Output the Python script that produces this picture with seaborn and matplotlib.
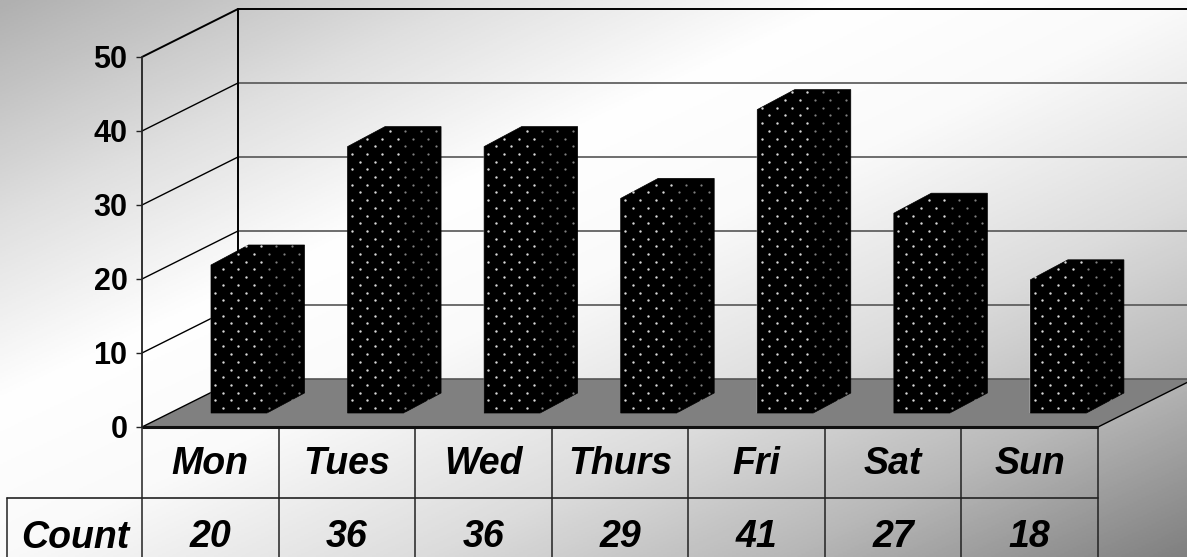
import numpy as np
import pandas as pd
import seaborn as sns
import matplotlib
matplotlib.use('Agg')
import matplotlib.pyplot as plt
from matplotlib.colors import LinearSegmentedColormap
from matplotlib.path import Path
from matplotlib.patches import Polygon

# Chart values
days = ['Mon', 'Tues', 'Wed', 'Thurs', 'Fri', 'Sat', 'Sun']
counts = [20, 36, 36, 29, 41, 27, 18]
row_label = 'Count'
y_ticks = [0, 10, 20, 30, 40, 50]

W, H = 1187, 557

sns.set_theme(style='white')
plt.rcParams['font.family'] = ['Liberation Sans', 'DejaVu Sans']

fig = plt.figure(figsize=(W / 100, H / 100), dpi=100)


def axes_px(left, top, right, bottom):
    # axes placed by its pixel box in the image
    return fig.add_axes([left / W, 1 - bottom / H, (right - left) / W, (bottom - top) / H])


# Pixel layout
front_l, front_r = 142, 1098
y0_px, y50_px = 427, 57
depth_x, depth_y = 96, 48
slot = (front_r - front_l) / len(days)
row_y = 498

# Diagonal grey background
bg = axes_px(0, 0, W, H)
bg.set_zorder(0)
xx, yy = np.meshgrid(np.linspace(0, 1, 600), np.linspace(0, 1, 300))
cmap = LinearSegmentedColormap.from_list(
    'bg', [(0, '#b0b0b0'), (0.2, '#e0e0e0'), (0.36, '#ffffff'), (0.5, '#fafafa'),
           (0.68, '#dcdcdc'), (0.83, '#b8b8b8'), (1, '#808080')])
bg.imshow((xx + yy) / 2, cmap=cmap, vmin=0, vmax=1, extent=[0, W, H, 0], aspect='auto')
bg.set_xlim(0, W)
bg.set_ylim(H, 0)
bg.axis('off')

# Floor and walls
bg.add_patch(Polygon([(front_l, y0_px), (front_l + depth_x, y0_px - depth_y),
                      (front_r + depth_x, y0_px - depth_y), (front_r, y0_px)],
                     facecolor='#808080', edgecolor='none'))
unit = (y0_px - y50_px) / 50
for t in y_ticks:
    y = y0_px - t * unit
    top = t == 50
    bg.plot([front_l, front_l + depth_x], [y, y - depth_y],
            color='black', lw=1.4 if top else 1.0, solid_capstyle='butt')
    bg.plot([front_l + depth_x, W + 5], [y - depth_y, y - depth_y],
            color='black' if top else '#555555', lw=1.4 if top else 1.2)
bg.plot([front_l + depth_x] * 2, [y50_px - depth_y, y0_px - depth_y], color='black', lw=1.4)
bg.plot([front_r, front_r + depth_x], [y0_px, y0_px - depth_y], color='black', lw=1.0)

# Data table under the chart
for i in range(len(days) + 1):
    bg.plot([front_l + i * slot] * 2, [y0_px, H + 5], color='#222222', lw=1.1)
bg.plot([7, 7], [row_y, H + 5], color='#222222', lw=1.1)
bg.plot([7, front_r], [row_y, row_y], color='#222222', lw=1.2)
bg.plot([front_l, front_r], [y0_px, y0_px], color='#111111', lw=2.2, solid_capstyle='butt')
text_style = dict(ha='center', va='center', fontsize=27, fontweight='bold', fontstyle='italic',
                  color='black')
for i, (d, c) in enumerate(zip(days, counts)):
    bg.text(front_l + (i + 0.5) * slot, 464, d, **text_style)
    bg.text(front_l + (i + 0.5) * slot, 537, str(c), **text_style)
bg.text(75, 538, row_label, **text_style)

# Value axis on the front plane
ax = axes_px(front_l, y50_px, front_r, y0_px)
ax.set_zorder(1)
ax.patch.set_visible(False)
ax.set_xlim(-0.5, len(days) - 0.5)
ax.set_ylim(0, 50)
ax.set_xticks([])
ax.set_yticks(y_ticks)
ax.tick_params(axis='y', left=True, length=4.5, width=1, color='#222222', pad=6)
for lab in ax.get_yticklabels():
    lab.set_fontsize(22)
    lab.set_fontweight('bold')
    lab.set_color('black')
sns.despine(ax=ax, top=True, right=True, bottom=True)
ax.spines['left'].set_color('#222222')
ax.spines['left'].set_linewidth(1.3)
ax.spines['left'].set_bounds(0, 50)

# Bars sit on the floor, a little behind the front plane
shift_x, shift_y = 28.7, 14
bar_ax = axes_px(front_l + shift_x, y50_px - shift_y, front_r + shift_x, y0_px - shift_y)
bar_ax.set_zorder(2)
bar_ax.patch.set_visible(False)
data = pd.DataFrame({'day': days, 'count': counts})
sns.barplot(data=data, x='day', y='count', order=days, color='black', saturation=1,
            width=56 / slot, ax=bar_ax)
bar_ax.set_xlim(-0.5, len(days) - 0.5)
bar_ax.set_ylim(0, 50)
bar_ax.axis('off')

# Depth faces and the stipple, worked out from the bars seaborn drew
fg = axes_px(0, 0, W, H)
fg.set_zorder(3)
fg.patch.set_visible(False)
fg.set_xlim(0, W)
fg.set_ylim(H, 0)
fg.axis('off')
dx, dy = 37.5, 20
fig.canvas.draw()
for bar in bar_ax.patches:
    (x0, yb), (x1, yt) = bar_ax.transData.transform(
        [(bar.get_x(), 0), (bar.get_x() + bar.get_width(), bar.get_height())])
    yb, yt = H - yb, H - yt
    outline = [(x0, yb), (x1, yb), (x1 + dx, yb - dy), (x1 + dx, yt - dy), (x0 + dx, yt - dy), (x0, yt)]
    fg.add_patch(Polygon(outline, facecolor='black', edgecolor='black', lw=0.5))
    px, py = [], []
    for k, y in enumerate(np.arange(yb - 5, yt - dy, -7.7)):
        start = x0 + (12 if k % 2 == 0 else 4.3)
        for x in np.arange(start, x1 + dx, 15.3):
            px.append(x)
            py.append(y)
    pts = np.column_stack([px, py])
    pts = pts[Path(outline).contains_points(pts, radius=-1.5)]
    front = pts[:, 0] <= x1
    fg.scatter(pts[front, 0], pts[front, 1], s=3.0, color='#d8d8d8', linewidths=0)
    fg.scatter(pts[~front, 0], pts[~front, 1], s=2.6, color='#808080', linewidths=0)

fig.savefig('out.png', dpi=100)
